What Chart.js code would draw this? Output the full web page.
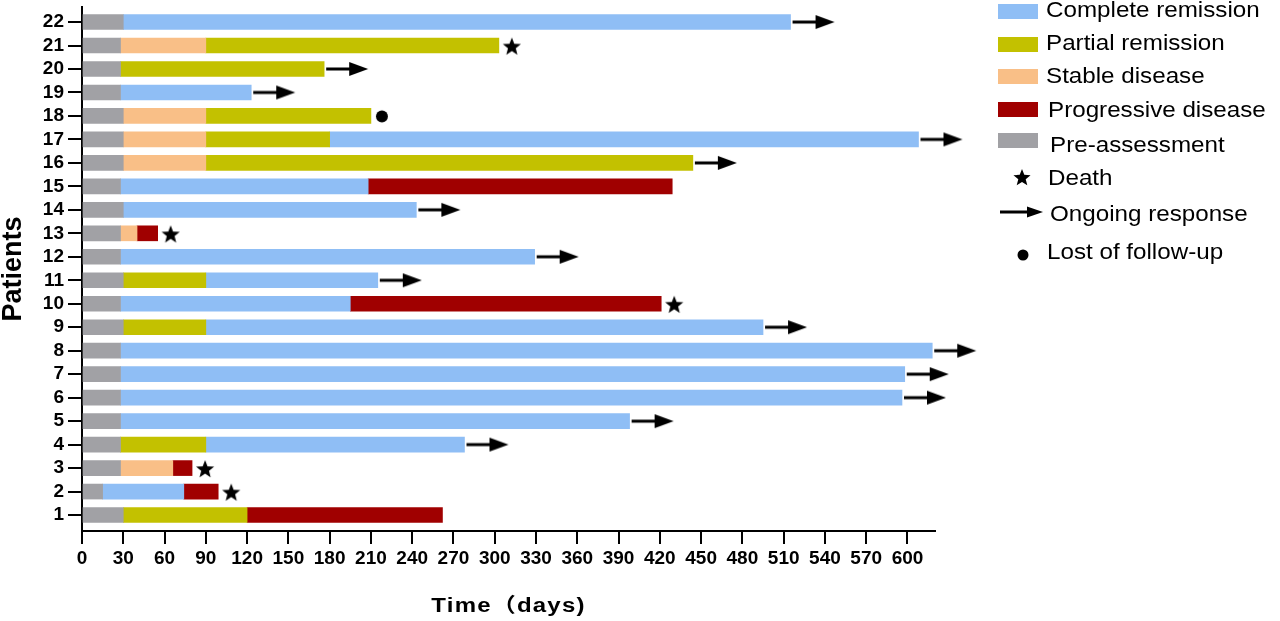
<!DOCTYPE html>
<html>
<head>
<meta charset="utf-8">
<script src="https://cdn.jsdelivr.net/npm/chart.js@4/dist/chart.umd.min.js"></script>
<style>
  html, body { margin: 0; padding: 0; background: #fff; width: 1280px; height: 621px; overflow: hidden; }
  #wrap { position: absolute; left: 0; top: 0; width: 990px; height: 621px; }
  #legend { position: absolute; left: 0; top: 0; width: 1280px; height: 621px; pointer-events: none; }
</style>
</head>
<body>
<div id="wrap"><canvas id="c" width="990" height="621"></canvas></div>
<svg id="legend" width="1280" height="621" xmlns="http://www.w3.org/2000/svg"></svg>
<script>
// ---------------- DATA ----------------
const patients = [1,2,3,4,5,6,7,8,9,10,11,12,13,14,15,16,17,18,19,20,21,22];
const dayTicks = [0,30,60,90,120,150,180,210,240,270,300,330,360,390,420,450,480,510,540,570,600];

// end of pre-assessment period (days), per patient 1..22
const preAssessmentEnd = [30,15,28,28,28,28,28,28,30,28,30,28,28,30,28,30,30,30,28,28,28,30];

// [start, end] in days, per patient 1..22 (null = none)
const completeRemission = [
  null, [15,74], null, [90,278], [28,398], [28,596], [28,598], [28,618], [90,495], [28,195], [90,215],
  [28,329], null, [30,243], [28,208], null, [180,608], null, [28,123], null, null, [30,515]
];
const partialRemission = [
  [30,120], null, null, [28,90], null, null, null, null, [30,90], null, [30,90],
  null, null, null, null, [90,444], [90,180], [90,210], null, [28,176], [90,303], null
];
const stableDisease = [
  null, null, [28,66], null, null, null, null, null, null, null, null,
  null, [28,40], null, null, [30,90], [30,90], [30,90], null, null, [28,90], null
];
const progressiveDisease = [
  [120,262], [74,99], [66,80], null, null, null, null, null, null, [195,421], null,
  null, [40,55], null, [208,429], null, null, null, null, null, null, null
];

const ongoingResponse = [4,5,6,7,8,9,11,12,14,16,17,19,20,22];
const death = [2,3,10,13,21];
const lostFollowUp = [18];

// ---------------- STYLES ----------------
const COLORS = {
  complete: '#8FBEF5',
  partial: '#C3C100',
  stable: '#F9BF87',
  progressive: '#A00000',
  pre: '#A1A1A5'
};
const FONT = '"Liberation Sans", Arial, "Noto Sans CJK SC", sans-serif';
Chart.defaults.font.family = FONT;
Chart.defaults.color = '#000';

function lastEnd(p) {
  const i = p - 1;
  let m = preAssessmentEnd[i];
  [completeRemission, partialRemission, stableDisease, progressiveDisease].forEach(a => {
    if (a[i]) m = Math.max(m, a[i][1]);
  });
  return m;
}

function segData(arr) {
  return patients.map((p, i) => arr[i] ? { x: arr[i], y: p } : null).filter(Boolean);
}

// marker images (centered on bar end)
function arrowImg() {
  const c = document.createElement('canvas');
  c.width = 90; c.height = 16;
  const g = c.getContext('2d');
  g.fillStyle = '#000';
  g.fillRect(47, 6.5, 25, 3);
  g.beginPath(); g.moveTo(70, 1); g.lineTo(89, 8); g.lineTo(70, 15); g.closePath(); g.fill();
  return c;
}
function starPts(cx, cy, R, r) {
  const pts = [];
  for (let k = 0; k < 10; k++) {
    const rad = k % 2 ? r : R;
    const a = -Math.PI / 2 + k * Math.PI / 5;
    pts.push([cx + rad * Math.cos(a), cy + rad * Math.sin(a)]);
  }
  return pts;
}
function starImg() {
  const c = document.createElement('canvas');
  c.width = 48; c.height = 26;
  const g = c.getContext('2d');
  g.fillStyle = '#000';
  g.beginPath();
  starPts(37, 14.5, 9.5, 4.1).forEach(([x, y], k) => k ? g.lineTo(x, y) : g.moveTo(x, y));
  g.closePath(); g.fill();
  return c;
}
function dotImg() {
  const c = document.createElement('canvas');
  c.width = 36; c.height = 16;
  const g = c.getContext('2d');
  g.fillStyle = '#000';
  g.beginPath(); g.arc(29, 8.5, 6, 0, Math.PI * 2); g.fill();
  return c;
}

const barCommon = { type: 'bar', indexAxis: 'y', grouped: false, barThickness: 15, borderWidth: 0, borderSkipped: false };

// wide, letter-spaced x-axis title as in the reference
const spacedTitle = {
  id: 'spacedTitle',
  afterLayout(chart) {
    const s = chart.scales.x;
    if (s && !s._spacedPatched) {
      const orig = s.drawTitle;
      s.drawTitle = function (...args) {
        const ctx = this.ctx;
        const cx = (this.left + this.right) / 2;
        ctx.save();
        ctx.letterSpacing = '1px';
        ctx.translate(cx, 0);
        ctx.scale(1.2, 1);
        ctx.translate(-cx, 0);
        orig.apply(this, args);
        ctx.restore();
      };
      s._spacedPatched = true;
    }
  }
};

new Chart(document.getElementById('c'), {
  type: 'bar',
  data: {
    datasets: [
      Object.assign({ label: 'Pre-assessment', backgroundColor: COLORS.pre,
        data: patients.map((p, i) => ({ x: [0, preAssessmentEnd[i]], y: p })) }, barCommon),
      Object.assign({ label: 'Stable disease', backgroundColor: COLORS.stable, data: segData(stableDisease) }, barCommon),
      Object.assign({ label: 'Partial remission', backgroundColor: COLORS.partial, data: segData(partialRemission) }, barCommon),
      Object.assign({ label: 'Complete remission', backgroundColor: COLORS.complete, data: segData(completeRemission) }, barCommon),
      Object.assign({ label: 'Progressive disease', backgroundColor: COLORS.progressive, data: segData(progressiveDisease) }, barCommon),
      { type: 'scatter', label: 'Ongoing response', clip: false, pointStyle: arrowImg(), pointRadius: 5,
        data: ongoingResponse.map(p => ({ x: lastEnd(p), y: p })) },
      { type: 'scatter', label: 'Death', clip: false, pointStyle: starImg(), pointRadius: 5,
        data: death.map(p => ({ x: lastEnd(p), y: p })) },
      { type: 'scatter', label: 'Lost of follow-up', clip: false, pointStyle: dotImg(), pointRadius: 5,
        data: lostFollowUp.map(p => ({ x: lastEnd(p), y: p })) }
    ]
  },
  options: {
    indexAxis: 'y',
    responsive: false,
    animation: false,
    events: [],
    layout: { padding: { top: 7, right: 55, bottom: 0, left: 0 } },
    plugins: { legend: { display: false }, tooltip: { enabled: false } },
    scales: {
      x: {
        type: 'linear', min: 0, max: 620, offset: false,
        afterBuildTicks: s => { s.ticks = dayTicks.map(v => ({ value: v })); },
        afterFit: s => { s.height = 90; s.paddingLeft = 0; s.paddingRight = 0; },
        ticks: { font: { size: 19, weight: 'bold' }, color: '#000', padding: 3, maxRotation: 0, autoSkip: false },
        grid: { display: true, offset: false, drawOnChartArea: false, drawTicks: true, tickLength: 13, color: '#000', lineWidth: 2 },
        border: { display: true, color: '#000', width: 2 },
        title: { display: true, text: 'Time（days)', color: '#000',
          font: { size: 20, weight: 'bold', family: FONT }, padding: { top: 0, bottom: 3 } }
      },
      y: {
        type: 'linear', min: 0.32, max: 22.64, offset: false,
        afterBuildTicks: s => { s.ticks = patients.map(v => ({ value: v })); },
        afterFit: s => { s.width = 82; s.paddingTop = 0; s.paddingBottom = 0; },
        ticks: { font: { size: 19, weight: 'bold' }, color: '#000', padding: 4, autoSkip: false },
        grid: { display: true, offset: false, drawOnChartArea: false, drawTicks: true, tickLength: 14, color: '#000', lineWidth: 2 },
        border: { display: true, color: '#000', width: 2 },
        title: { display: true, text: 'Patients', color: '#000',
          font: { size: 27, weight: 'bold', lineHeight: 1 }, padding: { top: 0, bottom: 0 } }
      }
    }
  },
  plugins: [spacedTitle]
});

// ---------------- LEGEND (SVG, real text) ----------------
const legendItems = [
  { kind: 'box', color: COLORS.complete, top: 4, text: 'Complete remission', tx: 1046, base: 17 },
  { kind: 'box', color: COLORS.partial, top: 37, text: 'Partial remission', tx: 1046, base: 50 },
  { kind: 'box', color: COLORS.stable, top: 69, text: 'Stable disease', tx: 1046, base: 83 },
  { kind: 'box', color: COLORS.progressive, top: 102, text: 'Progressive disease', tx: 1048, base: 117 },
  { kind: 'box', color: COLORS.pre, top: 133, text: 'Pre-assessment', tx: 1050, base: 152 },
  { kind: 'star', text: 'Death', tx: 1048, base: 185 },
  { kind: 'arrow', text: 'Ongoing response', tx: 1050, base: 221 },
  { kind: 'dot', text: 'Lost of follow-up', tx: 1047, base: 259 }
];
let svg = '';
legendItems.forEach(it => {
  if (it.kind === 'box') {
    svg += `<rect x="998" y="${it.top}" width="40" height="15" fill="${it.color}"/>`;
  } else if (it.kind === 'star') {
    const pts = starPts(1022, 178, 9, 3.9).map(p => p[0].toFixed(2) + ',' + p[1].toFixed(2)).join(' ');
    svg += `<polygon points="${pts}" fill="#000"/>`;
  } else if (it.kind === 'arrow') {
    svg += `<rect x="1000" y="210.5" width="30" height="3" fill="#000"/>`;
    svg += `<polygon points="1027,206.5 1043,212 1027,217.5" fill="#000"/>`;
  } else if (it.kind === 'dot') {
    svg += `<circle cx="1023" cy="255" r="5.5" fill="#000"/>`;
  }
  svg += `<text transform="translate(${it.tx},${it.base}) scale(1.1,1)" x="0" y="0" font-family='"Liberation Sans", Arial, sans-serif' font-size="22" fill="#000">${it.text}</text>`;
});
document.getElementById('legend').innerHTML = svg;
</script>
</body>
</html>
